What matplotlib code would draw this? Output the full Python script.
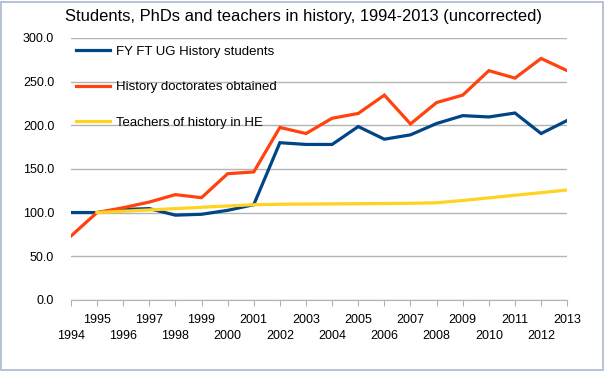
import matplotlib
matplotlib.use("Agg")
import matplotlib.pyplot as plt
from matplotlib.patches import Rectangle

years = list(range(1994, 2014))
students = [100, 100, 103.5, 104.5, 97, 98, 102.5, 109, 180, 178, 178, 198.5,
            184, 189, 202, 211, 209.5, 214, 190.5, 205.5]
doctorates = [73, 100, 105.5, 112, 120.5, 117, 144.5, 146.5, 197.5, 190.5, 208,
              213.5, 234.5, 201.5, 226, 234.5, 262.5, 254, 276.5, 262.5]
teacher_years = list(range(1995, 2014))
teachers = [100, 101.5, 103, 104.5, 106, 107.5, 109, 109.5, 109.7, 109.9, 110.1,
            110.3, 110.6, 111.2, 113.8, 116.8, 119.8, 122.8, 125.8]
labels = ["FY FT UG History students", "History doctorates obtained",
          "Teachers of history in HE"]
colors = ["#004586", "#ff420e", "#ffd320"]
title = "Students, PhDs and teachers in history, 1994-2013 (uncorrected)"

plt.rcParams['font.family'] = ['Liberation Sans', 'DejaVu Sans']

fig = plt.figure(figsize=(6.06, 3.72), dpi=100)
fig.patch.set_facecolor("white")
fig.patches.append(Rectangle((0.002, 0.005), 0.993, 0.99, transform=fig.transFigure,
                             fill=False, edgecolor="#a9b8cc", linewidth=1.2))
ax = fig.add_axes([0.117, 0.194, 0.819, 0.704])

ax.plot(years, students, color=colors[0], lw=2.3, label=labels[0], solid_joinstyle="miter")
ax.plot(years, doctorates, color=colors[1], lw=2.3, label=labels[1], solid_joinstyle="miter")
ax.plot(teacher_years, teachers, color=colors[2], lw=2.3, label=labels[2])

ax.set_xlim(1994, 2013)
ax.set_ylim(0, 300)
ax.set_yticks(range(0, 301, 50))
ax.set_yticklabels([f"{v:.1f}" for v in range(0, 301, 50)], fontsize=9)
ax.yaxis.grid(True, color="#b3b3b3", lw=1)
ax.set_axisbelow(True)
ax.set_xticks(years)
ax.set_xticklabels([str(y) if y % 2 == 1 else "\n" + str(y) for y in years],
                   fontsize=9, linespacing=1.45)
ax.tick_params(axis="y", length=0, pad=12)
ax.tick_params(axis="x", length=4, color="#b3b3b3", pad=6)
for s in ["top", "right", "left"]:
    ax.spines[s].set_visible(False)
ax.spines["bottom"].set_color("#b3b3b3")

ax.legend(loc="upper left", bbox_to_anchor=(0.0, 0.99), frameon=False, fontsize=9.5,
          handlelength=2.6, handletextpad=0.4, labelspacing=1.75, borderaxespad=0)

fig.text(0.5, 0.955, title, ha="center", va="center", fontsize=11.9)

fig.savefig("out.png", dpi=100)
